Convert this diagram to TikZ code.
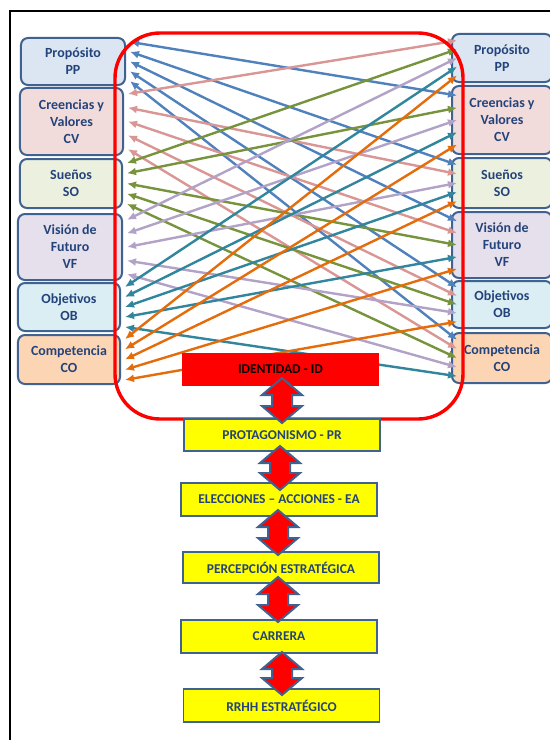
\documentclass[tikz,border=0pt]{standalone}
\usepackage{fontspec}
\setmainfont{Carlito}
\usetikzlibrary{calc,arrows.meta}
\definecolor{cPP}{HTML}{4F81BD}
\definecolor{cCV}{HTML}{D99694}
\definecolor{cSO}{HTML}{77933C}
\definecolor{cVF}{HTML}{B3A2C7}
\definecolor{cOB}{HTML}{31859C}
\definecolor{cCO}{HTML}{E46C0A}
\definecolor{fPP}{HTML}{DCE6F2}
\definecolor{fCV}{HTML}{F2DCDB}
\definecolor{fSO}{HTML}{EBF1DE}
\definecolor{fVF}{HTML}{E6E0EC}
\definecolor{fOB}{HTML}{DBEEF4}
\definecolor{fCO}{HTML}{FCD5B5}
\definecolor{bd}{HTML}{3F6290}
\definecolor{tx}{HTML}{23437A}
\definecolor{ylw}{HTML}{FFFF00}
\tikzset{
  sbox/.style={draw=bd, line width=2bp, rounded corners=7bp, text=tx,
    font=\bfseries\fontsize{14}{17}\selectfont, align=center, inner sep=0pt},
  blk/.style={draw=bd, line width=1.8bp, fill=ylw, text=tx, minimum width=196bp,
    minimum height=33bp, inner sep=0pt, font=\bfseries\fontsize{13.5}{15}\selectfont},
  conn/.style={line width=2.4bp, {Latex[length=9bp,width=8bp]}-{Latex[length=9bp,width=8bp]}},
  dblarr/.style={fill=red, draw=bd, line width=2bp, line join=miter}
}
\newcommand{\dblarrow}[3]{%
  \draw[dblarr] (#1,#2) -- (#1-20,#2+17) -- (#1-10,#2+17) -- (#1-10,#3-17) -- (#1-20,#3-17)
    -- (#1,#3) -- (#1+20,#3-17) -- (#1+10,#3-17) -- (#1+10,#2+17) -- (#1+20,#2+17) -- cycle;}
\begin{document}
\begin{tikzpicture}[x=1bp,y=-1bp]
\useasboundingbox (0,0) rectangle (550,740);
\clip (0,0) rectangle (550,740);
\fill[white] (0,0) rectangle (550,740);
% outer frame
\draw[line width=2.8bp] (10,741) -- (10,11) -- (553,11);
% left boxes
\node[sbox, fill=fPP, minimum width=104bp, minimum height=47bp] (LPP) at (73,61.5) {Propósito\\PP};
\node[sbox, fill=fCV, minimum width=103bp, minimum height=67bp] (LCV) at (71.5,121.5) {Creencias y\\Valores\\CV};
\node[sbox, fill=fSO, minimum width=102bp, minimum height=49bp] (LSO) at (71,183.5) {Sueños\\SO};
\node[sbox, fill=fVF, minimum width=104bp, minimum height=66bp] (LVF) at (70,247) {Visión de\\Futuro\\VF};
\node[sbox, fill=fOB, minimum width=102bp, minimum height=48bp] (LOB) at (69,307) {Objetivos\\OB};
\node[sbox, fill=fCO, minimum width=102bp, minimum height=49bp] (LCO) at (69,359.5) {Competencia\\CO};
% right boxes
\node[sbox, fill=fPP, minimum width=100bp, minimum height=48bp] (RPP) at (502,58) {Propósito\\PP};
\node[sbox, fill=fCV, minimum width=100bp, minimum height=68bp] (RCV) at (502,120) {Creencias y\\Valores\\CV};
\node[sbox, fill=fSO, minimum width=100bp, minimum height=50bp] (RSO) at (502,183) {Sueños\\SO};
\node[sbox, fill=fVF, minimum width=100bp, minimum height=66bp] (RVF) at (502,245) {Visión de\\Futuro\\VF};
\node[sbox, fill=fOB, minimum width=100bp, minimum height=47bp] (ROB) at (502,304.5) {Objetivos\\OB};
\node[sbox, fill=fCO, minimum width=100bp, minimum height=50bp] (RCO) at (502,358) {Competencia\\CO};
% connectors
\foreach \a [count=\i] in {PP,CV,SO,VF,OB,CO} {
  \foreach \b [count=\j] in {PP,CV,SO,VF,OB,CO} {
    \ifnum\i=\j\relax\else
      \pgfmathsetmacro\fl{0.1+0.2*(\j-1-(\j>\i))}
      \pgfmathsetmacro\fr{0.15+0.175*(\i-1-(\i>\j))}
      \draw[conn, color=c\a] ($(L\a.north east)!\fl!(L\a.south east)+(4,0)$) -- ($(R\b.north west)!\fr!(R\b.south west)+(6,0)$);
    \fi
  }
}
% red rounded frame
\node[draw=red, line width=3.4bp, rounded corners=45bp, minimum width=348bp, minimum height=386bp, inner sep=0pt] (ring) at (289,226) {};
% bottom chain
\node[fill=red, minimum width=197bp, minimum height=33bp, inner sep=0pt, font=\bfseries\fontsize{13.5}{15}\selectfont] (ID) at (280.5,369.5) {IDENTIDAD - ID};
\node[blk, minimum height=32bp] (PR) at (282,435) {PROTAGONISMO - PR};
\node[blk] (EA) at (279,499.5) {ELECCIONES – ACCIONES - EA};
\node[blk, minimum height=31bp] (PE) at (281,567.5) {PERCEPCIÓN ESTRATÉGICA\hspace{22bp}};
\node[blk] (CA) at (279,636.5) {CARRERA};
\node[blk] (RR) at (281.5,705.5) {RRHH ESTRATÉGICO};
\dblarrow{282}{378}{423}
\dblarrow{280}{446}{490}
\dblarrow{278}{510}{555}
\dblarrow{278}{577}{622}
\dblarrow{282}{652}{695}
\end{tikzpicture}
\end{document}
